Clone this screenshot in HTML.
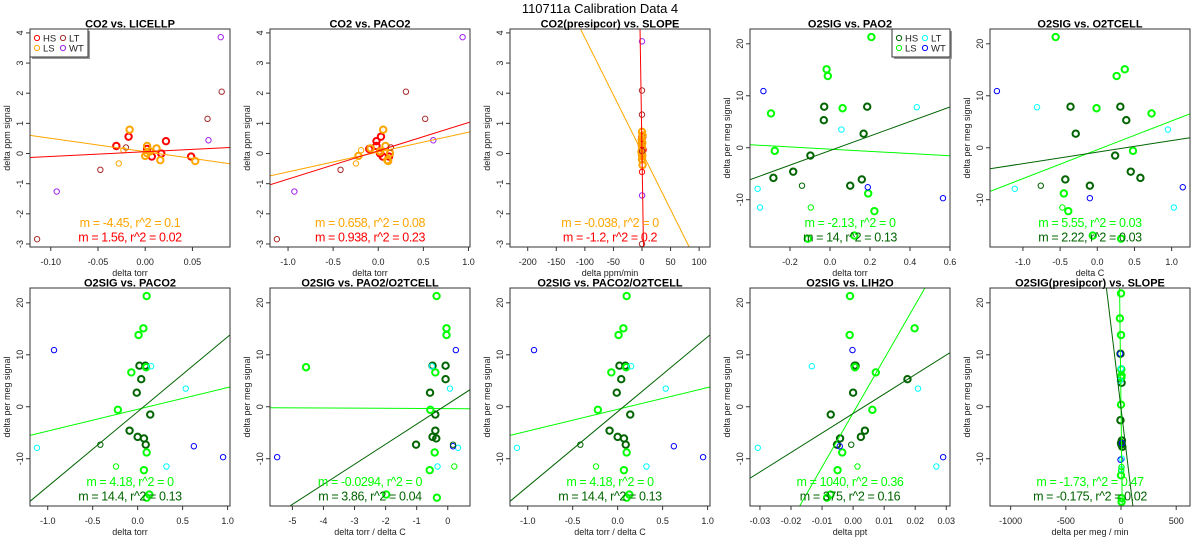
<!DOCTYPE html>
<html><head><meta charset="utf-8">
<style>
html,body{margin:0;padding:0;background:#fff;width:1200px;height:550px;overflow:hidden;}
svg{display:block;overflow:hidden;font-family:"Liberation Sans",Arial,sans-serif;}
</style></head>
<body>
<svg id="fig" width="1200" height="550" viewBox="0 0 1200 550" xmlns="http://www.w3.org/2000/svg">
<rect x="0" y="0" width="1200" height="550" fill="#fff"/>
<text x="600" y="13" font-size="13" text-anchor="middle" fill="#000">110711a   Calibration Data 4</text>
</svg>
<script>
// ---------- CO2 data (P1/P2 share y) ----------
const CO2_HS_Y = [0.25,0.56,0.41,0.0,-0.1,-0.1,0.15];
const P1_HS_X = [-0.0306,-0.0176,0.022,0.017,0.007,0.0486,0.002];
const P2_HS_X = [-0.02,0.03,-0.02,0.02,0.05,0.12,-0.1];
const CO2_LS_Y = [0.79,0.25,0.17,0.07,-0.08,-0.22,-0.25,0.01];
const P1_LS_X = [-0.0165,0.002,0.012,0.005,0.0,0.016,0.053,0.002];
const P2_LS_X = [0.055,0.08,-0.085,0.02,-0.22,0.1,0.11,0.13];
const CO2_LSTHIN_Y = [-0.33,0.11];
const P1_LSTHIN_X = [-0.028,-0.023];
const P2_LSTHIN_X = [-0.248,-0.19];
const CO2_LT_Y = [-2.84,-0.54,0.2,1.15,2.05];
const P1_LT_X = [-0.1145,-0.0475,-0.0204,0.066,0.081];
const P2_LT_X = [-1.124,-0.418,0.14,0.52,0.307];
const CO2_WT_Y = [-1.26,3.86,0.44];
const P1_WT_X = [-0.0937,0.08,0.067];
const P2_WT_X = [-0.93,0.935,0.61];
// P3 (presipcor y)
const P3_HS_X = [0.5,-0.5,1,0];
const P3_HS_Y = [0.55,0.3,0.12,-0.05];
const P3_HSTHIN_X = [0];
const P3_HSTHIN_Y = [-0.61];
const P3_LS_X = [0,1,-0.5,0.5,0,-1,0.3,0,1,0.2];
const P3_LS_Y = [0.72,0.6,0.45,0.35,0.2,0.05,-0.1,-0.2,-0.38,-0.05];
const P3_LT_X = [0,0,0,0.2];
const P3_LT_Y = [2.09,1.29,-3.0,0.08];
const P3_WT_X = [0,0.2];
const P3_WT_Y = [3.72,-1.39];
// ---------- O2 data (shared y) ----------
const O2_HS_Y = [7.9,7.9,5.3,2.7,-1.5,-4.6,-5.8,-6.1,-7.3];
const P4_HS_X = [-0.029,0.186,-0.031,0.168,-0.098,-0.184,-0.283,0.159,0.101];
const P5_HS_X = [-0.36,0.31,0.39,-0.29,0.24,0.45,0.58,-0.43,-0.10];
const B1_HS_X = [0.02,0.086,0.04,-0.01,0.14,-0.09,0.0,0.07,0.09];
const B2_HS_X = [-0.49,-0.07,-0.07,-0.57,-0.40,-0.40,-0.49,-0.37,-1.02];
const B4_HS_X = [0.0005,0.0008,0.0175,0.0,-0.0072,0.0038,0.0025,-0.0042,-0.0052];
const O2_HSTHIN_Y = [-7.3];
const P4_HSTHIN_X = [-0.14];
const P5_HSTHIN_X = [-0.76];
const B1_HSTHIN_X = [-0.415];
const B2_HSTHIN_X = [0.17];
const B4_HSTHIN_X = [-0.0006];
const O2_LS_Y = [21.3,15.1,13.8,7.6,6.6,-0.6,-8.8,-12.2,-16.9,-17.5];
const P4_LS_X = [0.207,-0.017,-0.011,0.063,-0.295,-0.276,0.191,0.222,0.122,-0.111];
const P5_LS_X = [-0.56,0.37,0.26,-0.01,0.73,0.48,-0.45,-0.39,-0.06,0.32];
const B1_LS_X = [0.10,0.064,0.01,0.094,-0.07,-0.22,0.10,0.07,0.13,0.10];
const B2_LS_X = [-0.36,-0.04,-0.04,-4.56,-0.40,-0.56,-0.42,-0.58,-1.98,-0.35];
const B4_LS_X = [-0.001,0.0198,-0.0011,0.0006,0.0073,0.0062,-0.0035,-0.005,-0.0073,-0.0084];
const O2_LSTHIN_Y = [-11.5];
const P4_LSTHIN_X = [-0.096];
const P5_LSTHIN_X = [-0.47];
const B1_LSTHIN_X = [-0.24];
const B2_LSTHIN_X = [0.21];
const B4_LSTHIN_X = [0.0014];
const O2_LT_Y = [7.8,3.5,-7.9,-11.5];
const P4_LT_X = [0.434,0.057,-0.362,-0.350];
const P5_LT_X = [-0.81,0.95,-1.11,1.03];
const B1_LT_X = [0.15,0.535,-1.12,0.32];
const B2_LT_X = [-0.51,0.07,0.33,-0.33];
const B4_LT_X = [-0.0133,0.0209,-0.0307,0.0268];
const O2_WT_Y = [10.9,-7.6,-9.7];
const P4_WT_X = [-0.333,0.189,0.565];
const P5_WT_X = [-1.35,1.15,-0.10];
const B1_WT_X = [-0.93,0.625,0.95];
const B2_WT_X = [0.26,0.17,-5.49];
const B4_WT_X = [-0.0002,-0.0043,0.029];
// B5 (presipcor)
const B5_HS_X = [-5,5,-5,8,0,12,3];
const B5_HS_Y = [10.2,4.6,-2.6,-6.5,-7,-7.7,-7.3];
const B5_LS_X = [0,-10,0,5,3,0,0,5,5,3];
const B5_LS_Y = [21.8,17,13.8,6,5.6,0.4,-13.2,-17.6,-18.3,7.2];
const B5_LSTHIN_X = [5,2];
const B5_LSTHIN_Y = [-11.6,-12.3];
const B5_LT_X = [0,-10,8,2];
const B5_LT_Y = [7.4,5,-10,-12];
const B5_WT_X = [-8,8,-5];
const B5_WT_Y = [10.2,-7,-10.2];
// ---------- fits (slope, intercept) ----------
const P1_FIT_M = [-4.45,1.56];  const P1_FIT_B = [0.06,0.06];
const P2_FIT_M = [0.658,0.938]; const P2_FIT_B = [0.05,0.09];
const P3_FIT_M = [-0.038,-1.2]; const P3_FIT_B = [0.04,0.0];
const P4_FIT_M = [-2.13,14];    const P4_FIT_B = [-0.27,-0.55];
const P5_FIT_M = [5.55,2.22];   const P5_FIT_B = [-0.39,-0.84];
const B1_FIT_M = [4.18,14.4];   const B1_FIT_B = [-0.5,-0.96];
const B2_FIT_M = [-0.0294,3.86];const B2_FIT_B = [-0.36,0.51];
const B3_FIT_M = [4.18,14.4];   const B3_FIT_B = [-0.5,-0.96];
const B4_FIT_M = [1040,375];    const B4_FIT_B = [-1.2,-1.3];
const B5_FIT_M = [-1.73,-0.175];const B5_FIT_B = [0.0,-0.3];
// ---------- annotations ----------
const P1_NOTES = ["m = -4.45, r^2 = 0.1","m = 1.56, r^2 = 0.02"];
const P2_NOTES = ["m = 0.658, r^2 = 0.08","m = 0.938, r^2 = 0.23"];
const P3_NOTES = ["m = -0.038, r^2 = 0","m = -1.2, r^2 = 0.2"];
const P4_NOTES = ["m = -2.13, r^2 = 0","m = 14, r^2 = 0.13"];
const P5_NOTES = ["m = 5.55, r^2 = 0.03","m = 2.22, r^2 = 0.03"];
const B1_NOTES = ["m = 4.18, r^2 = 0","m = 14.4, r^2 = 0.13"];
const B2_NOTES = ["m = -0.0294, r^2 = 0","m = 3.86, r^2 = 0.04"];
const B3_NOTES = ["m = 4.18, r^2 = 0","m = 14.4, r^2 = 0.13"];
const B4_NOTES = ["m = 1040, r^2 = 0.36","m = 375, r^2 = 0.16"];
const B5_NOTES = ["m = -1.73, r^2 = 0.47","m = -0.175, r^2 = 0.02"];
// ---------- ticks ----------
const CO2_YTICKS = [-3,-2,-1,0,1,2,3,4];
const O2_YTICKS = [-10,0,10,20];
const P1_XTICKS = [-0.10,-0.05,0,0.05]; const P1_XLABELS = ["-0.10","-0.05","0.00","0.05"];
const PM1_XTICKS = [-1,-0.5,0,0.5,1];   const PM1_XLABELS = ["-1.0","-0.5","0.0","0.5","1.0"];
const P3_XTICKS = [-200,-150,-100,-50,0,50,100]; const P3_XLABELS = ["-200","-150","-100","-50","0","50","100"];
const P4_XTICKS = [-0.2,0,0.2,0.4,0.6]; const P4_XLABELS = ["-0.2","0.0","0.2","0.4","0.6"];
const B2_XTICKS = [-5,-4,-3,-2,-1,0];   const B2_XLABELS = ["-5","-4","-3","-2","-1","0"];
const B4_XTICKS = [-0.03,-0.02,-0.01,0,0.01,0.02,0.03]; const B4_XLABELS = ["-0.03","-0.02","-0.01","0.00","0.01","0.02","0.03"];
const B5_XTICKS = [-1000,-500,0,500];   const B5_XLABELS = ["-1000","-500","0","500"];

const C = {hs:'#ff0000', ls:'#ffa500', lt:'#a52a2a', wt:'#a020f0', ohs:'#006400', ols:'#00ff00', olt:'#00ffff', owt:'#0000ff'};
function co2Series(hx,hy,lx,ly,ltx,lty,wx,wy,lsx,lsy,hsx,hsy){
  const s=[{n:'hs',c:C.hs,t:1,x:hx,y:hy},{n:'ls',c:C.ls,t:1,x:lx,y:ly},{n:'lt',c:C.lt,t:0,x:ltx,y:lty},{n:'wt',c:C.wt,t:0,x:wx,y:wy}];
  if(lsx) s.push({n:'ls-thin',c:C.ls,t:0,x:lsx,y:lsy});
  if(hsx) s.push({n:'hs-thin',c:C.hs,t:0,x:hsx,y:hsy});
  return s;
}
function o2Series(hx,hy,lx,ly,ltx,lty,wx,wy,lsx,lsy,hsx,hsy){
  return [{n:'hs',c:C.ohs,t:1,x:hx,y:hy},{n:'ls',c:C.ols,t:1,x:lx,y:ly},{n:'lt',c:C.olt,t:0,x:ltx,y:lty},{n:'wt',c:C.owt,t:0,x:wx,y:wy},{n:'ls-thin',c:C.ols,t:0,x:lsx,y:lsy},{n:'hs-thin',c:C.ohs,t:0,x:hsx,y:hsy}];
}
const co2Lim=[-3.1,4.13], o2Lim=[-19.1,22.85];
const panels=[
 {id:'co2-vs-licellp',title:'CO2 vs. LICELLP',col:0,row:0,xlim:[-0.122,0.0898],ylim:co2Lim,xt:P1_XTICKS,xl:P1_XLABELS,yt:CO2_YTICKS,xlab:'delta torr',ylab:'delta ppm signal',
  s:co2Series(P1_HS_X,CO2_HS_Y,P1_LS_X,CO2_LS_Y,P1_LT_X,CO2_LT_Y,P1_WT_X,CO2_WT_Y,P1_LSTHIN_X,CO2_LSTHIN_Y),m:P1_FIT_M,b:P1_FIT_B,notes:P1_NOTES,kind:'co2',legend:true},
 {id:'co2-vs-paco2',title:'CO2 vs. PACO2',col:1,row:0,xlim:[-1.2,1.017],ylim:co2Lim,xt:PM1_XTICKS,xl:PM1_XLABELS,yt:CO2_YTICKS,xlab:'delta torr',ylab:'delta ppm signal',
  s:co2Series(P2_HS_X,CO2_HS_Y,P2_LS_X,CO2_LS_Y,P2_LT_X,CO2_LT_Y,P2_WT_X,CO2_WT_Y,P2_LSTHIN_X,CO2_LSTHIN_Y),m:P2_FIT_M,b:P2_FIT_B,notes:P2_NOTES,kind:'co2'},
 {id:'co2-presipcor-vs-slope',title:'CO2(presipcor) vs. SLOPE',col:2,row:0,xlim:[-231,119],ylim:co2Lim,xt:P3_XTICKS,xl:P3_XLABELS,yt:CO2_YTICKS,xlab:'delta ppm/min',ylab:'delta ppm signal',
  s:co2Series(P3_HS_X,P3_HS_Y,P3_LS_X,P3_LS_Y,P3_LT_X,P3_LT_Y,P3_WT_X,P3_WT_Y,null,null,P3_HSTHIN_X,P3_HSTHIN_Y),m:P3_FIT_M,b:P3_FIT_B,notes:P3_NOTES,kind:'co2'},
 {id:'o2sig-vs-pao2',title:'O2SIG vs. PAO2',col:3,row:0,xlim:[-0.4,0.6],ylim:o2Lim,xt:P4_XTICKS,xl:P4_XLABELS,yt:O2_YTICKS,xlab:'delta torr',ylab:'delta per meg signal',
  s:o2Series(P4_HS_X,O2_HS_Y,P4_LS_X,O2_LS_Y,P4_LT_X,O2_LT_Y,P4_WT_X,O2_WT_Y,P4_LSTHIN_X,O2_LSTHIN_Y,P4_HSTHIN_X,O2_HSTHIN_Y),m:P4_FIT_M,b:P4_FIT_B,notes:P4_NOTES,kind:'o2',legend:true},
 {id:'o2sig-vs-o2tcell',title:'O2SIG vs. O2TCELL',col:4,row:0,xlim:[-1.443,1.247],ylim:o2Lim,xt:PM1_XTICKS,xl:PM1_XLABELS,yt:O2_YTICKS,xlab:'delta C',ylab:'delta per meg signal',
  s:o2Series(P5_HS_X,O2_HS_Y,P5_LS_X,O2_LS_Y,P5_LT_X,O2_LT_Y,P5_WT_X,O2_WT_Y,P5_LSTHIN_X,O2_LSTHIN_Y,P5_HSTHIN_X,O2_HSTHIN_Y),m:P5_FIT_M,b:P5_FIT_B,notes:P5_NOTES,kind:'o2'},
 {id:'o2sig-vs-paco2',title:'O2SIG vs. PACO2',col:0,row:1,xlim:[-1.197,1.027],ylim:o2Lim,xt:PM1_XTICKS,xl:PM1_XLABELS,yt:O2_YTICKS,xlab:'delta torr',ylab:'delta per meg signal',
  s:o2Series(B1_HS_X,O2_HS_Y,B1_LS_X,O2_LS_Y,B1_LT_X,O2_LT_Y,B1_WT_X,O2_WT_Y,B1_LSTHIN_X,O2_LSTHIN_Y,B1_HSTHIN_X,O2_HSTHIN_Y),m:B1_FIT_M,b:B1_FIT_B,notes:B1_NOTES,kind:'o2'},
 {id:'o2sig-vs-pao2-o2tcell',title:'O2SIG vs. PAO2/O2TCELL',col:1,row:1,xlim:[-5.72,0.716],ylim:o2Lim,xt:B2_XTICKS,xl:B2_XLABELS,yt:O2_YTICKS,xlab:'delta torr / delta C',ylab:'delta per meg signal',
  s:o2Series(B2_HS_X,O2_HS_Y,B2_LS_X,O2_LS_Y,B2_LT_X,O2_LT_Y,B2_WT_X,O2_WT_Y,B2_LSTHIN_X,O2_LSTHIN_Y,B2_HSTHIN_X,O2_HSTHIN_Y),m:B2_FIT_M,b:B2_FIT_B,notes:B2_NOTES,kind:'o2'},
 {id:'o2sig-vs-paco2-o2tcell',title:'O2SIG vs. PACO2/O2TCELL',col:2,row:1,xlim:[-1.197,1.027],ylim:o2Lim,xt:PM1_XTICKS,xl:PM1_XLABELS,yt:O2_YTICKS,xlab:'delta torr / delta C',ylab:'delta per meg signal',
  s:o2Series(B1_HS_X,O2_HS_Y,B1_LS_X,O2_LS_Y,B1_LT_X,O2_LT_Y,B1_WT_X,O2_WT_Y,B1_LSTHIN_X,O2_LSTHIN_Y,B1_HSTHIN_X,O2_HSTHIN_Y),m:B3_FIT_M,b:B3_FIT_B,notes:B3_NOTES,kind:'o2'},
 {id:'o2sig-vs-lih2o',title:'O2SIG vs. LIH2O',col:3,row:1,xlim:[-0.0332,0.0312],ylim:o2Lim,xt:B4_XTICKS,xl:B4_XLABELS,yt:O2_YTICKS,xlab:'delta ppt',ylab:'delta per meg signal',
  s:o2Series(B4_HS_X,O2_HS_Y,B4_LS_X,O2_LS_Y,B4_LT_X,O2_LT_Y,B4_WT_X,O2_WT_Y,B4_LSTHIN_X,O2_LSTHIN_Y,B4_HSTHIN_X,O2_HSTHIN_Y),m:B4_FIT_M,b:B4_FIT_B,notes:B4_NOTES,kind:'o2'},
 {id:'o2sig-presipcor-vs-slope',title:'O2SIG(presipcor) vs. SLOPE',col:4,row:1,xlim:[-1187,625],ylim:o2Lim,xt:B5_XTICKS,xl:B5_XLABELS,yt:O2_YTICKS,xlab:'delta per meg / min',ylab:'delta per meg signal',
  s:[{n:'hs',c:C.ohs,t:1,x:B5_HS_X,y:B5_HS_Y},{n:'ls',c:C.ols,t:1,x:B5_LS_X,y:B5_LS_Y},{n:'lt',c:C.olt,t:0,x:B5_LT_X,y:B5_LT_Y},{n:'wt',c:C.owt,t:0,x:B5_WT_X,y:B5_WT_Y},{n:'ls-thin',c:C.ols,t:0,x:B5_LSTHIN_X,y:B5_LSTHIN_Y}],m:B5_FIT_M,b:B5_FIT_B,notes:B5_NOTES,kind:'o2'}
];

const NS='http://www.w3.org/2000/svg';
const svg=document.getElementById('fig');
function mk(tag,attrs,parent){const e=document.createElementNS(NS,tag);for(const k in attrs)e.setAttribute(k,attrs[k]);(parent||svg).appendChild(e);return e;}

panels.forEach(function(p,pi){
  const L=30+240*p.col, W=200;
  const T=p.row===0?29:288, H=218;
  const B=T+H, R=L+W;
  const sx=v=>L+(v-p.xlim[0])/(p.xlim[1]-p.xlim[0])*W;
  const sy=v=>B-(v-p.ylim[0])/(p.ylim[1]-p.ylim[0])*H;
  const g=mk('g',{});
  
  
  const cp=mk('clipPath',{id:'clip'+pi},g);
  mk('rect',{x:L,y:T,width:W,height:H},cp);
  const title=mk('text',{x:L+W/2,y:T-1.5,'font-size':11,'font-weight':'bold','text-anchor':'middle',fill:'#000'},g);
  title.textContent=p.title;
  
  
  p.xt.forEach(function(v,i){
    const x=sx(v);
    const tk=mk('line',{x1:x,x2:x,y1:B,y2:B+4,stroke:'#333','stroke-width':1},g);
    
    
    const tl=mk('text',{x:x,y:B+18,'font-size':9,'text-anchor':'middle',fill:'#222'},g);
    tl.textContent=p.xl[i];
    
    
  });
  p.yt.forEach(function(v){
    const y=sy(v);
    const tk=mk('line',{x1:L-4,x2:L,y1:y,y2:y,stroke:'#333','stroke-width':1},g);
    
    
    const tl=mk('text',{x:0,y:0,'font-size':9,'text-anchor':'middle',fill:'#222',transform:'translate('+(L-7)+','+y+') rotate(-90)'},g);
    tl.textContent=String(v);
    
    
  });
  const xl=mk('text',{x:L+W/2,y:B+29,'font-size':9,'text-anchor':'middle',fill:'#222'},g);
  xl.textContent=p.xlab;
  
  
  const yl=mk('text',{x:0,y:0,'font-size':9,'text-anchor':'middle',fill:'#222',transform:'translate('+(L-20)+','+(T+H/2)+') rotate(-90)'},g);
  yl.textContent=p.ylab;
  
  
  const pg=mk('g',{'clip-path':'url(#clip'+pi+')'},g);
  
  
  p.s.forEach(function(s){
    s.x.forEach(function(xv,i){
      const c=mk('circle',{cx:sx(xv),cy:sy(s.y[i]),r:s.t?3.2:2.7,fill:'none',stroke:s.c,'stroke-width':s.t?2:1},pg);
      
      
    });
  });
  const fitColors=p.kind==='co2'?[C.ls,C.hs]:[C.ols,C.ohs];
  p.m.forEach(function(m,i){
    const x0=p.xlim[0],x1=p.xlim[1];
    const ln=mk('line',{x1:sx(x0),y1:sy(m*x0+p.b[i]),x2:sx(x1),y2:sy(m*x1+p.b[i]),stroke:fitColors[i],'stroke-width':1},pg);
    
    
  });
  p.notes.forEach(function(t,i){
    const tx=mk('text',{x:L+W/2,y:B-(i===0?20:5.5),'font-size':12.5,'text-anchor':'middle',fill:fitColors[i],'letter-spacing':'-0.4'},g);
    tx.textContent=t;
    
    
  });
  const bx=mk('rect',{x:L,y:T,width:W,height:H,fill:'none',stroke:'#333','stroke-width':1},g);
  
  
  if(p.legend){
    const lw=58,lh=28, lx=p.kind==='co2'?L:R-lw, ly=T;
    const lg=mk('g',{},g);
    
    
    mk('rect',{x:lx+2,y:ly+2,width:lw,height:lh,fill:'#999'},lg);
    mk('rect',{x:lx,y:ly,width:lw,height:lh,fill:'#fff',stroke:'#333','stroke-width':1},lg);
    const names=['HS','LT','LS','WT'];
    const cols=p.kind==='co2'?[C.hs,C.lt,C.ls,C.wt]:[C.ohs,C.olt,C.ols,C.owt];
    names.forEach(function(nm,i){
      const cx=lx+7+(i%2)*26, cy=ly+9+Math.floor(i/2)*10;
      const e=mk('g',{},lg);
      
      
      mk('circle',{cx:cx,cy:cy,r:2.6,fill:'none',stroke:cols[i],'stroke-width':1},e);
      const t=mk('text',{x:cx+6,y:cy+3.5,'font-size':9.5,fill:'#222'},e);
      t.textContent=nm;
    });
  }
});
</script>
</body></html>
